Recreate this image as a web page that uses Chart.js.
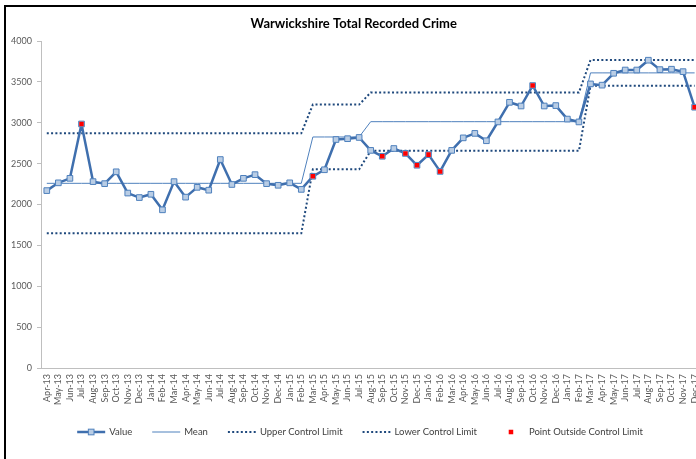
<!DOCTYPE html>
<html>
<head>
<meta charset="utf-8">
<title>Warwickshire Total Recorded Crime</title>
<script src="https://cdn.jsdelivr.net/npm/chart.js@4.4.0/dist/chart.umd.min.js"></script>
<style>
  html, body { margin: 0; padding: 0; background: #fff; overflow: hidden; }
  #wrap { position: absolute; left: 0; top: 0; width: 712px; height: 459px; }
  #frame { position: absolute; left: 4px; top: 5px; width: 900px; height: 900px; border: 2px solid #000; pointer-events: none; }
</style>
</head>
<body>
<div id="wrap"><canvas id="crimeChart" width="712" height="459"></canvas></div>
<div id="frame"></div>
<script>
const months = [
  'Apr-13', 'May-13', 'Jun-13', 'Jul-13', 'Aug-13', 'Sep-13', 'Oct-13', 'Nov-13', 'Dec-13',
  'Jan-14', 'Feb-14', 'Mar-14', 'Apr-14', 'May-14', 'Jun-14', 'Jul-14', 'Aug-14', 'Sep-14', 'Oct-14', 'Nov-14', 'Dec-14',
  'Jan-15', 'Feb-15', 'Mar-15', 'Apr-15', 'May-15', 'Jun-15', 'Jul-15', 'Aug-15', 'Sep-15', 'Oct-15', 'Nov-15', 'Dec-15',
  'Jan-16', 'Feb-16', 'Mar-16', 'Apr-16', 'May-16', 'Jun-16', 'Jul-16', 'Aug-16', 'Sep-16', 'Oct-16', 'Nov-16', 'Dec-16',
  'Jan-17', 'Feb-17', 'Mar-17', 'Apr-17', 'May-17', 'Jun-17', 'Jul-17', 'Aug-17', 'Sep-17', 'Oct-17', 'Nov-17', 'Dec-17'
];

const values = [
  2170, 2265, 2320, 2985, 2280, 2255, 2400, 2140, 2085,
  2125, 1935, 2280, 2090, 2210, 2175, 2550, 2245, 2320, 2365, 2255, 2235,
  2265, 2185, 2345, 2425, 2795, 2805, 2820, 2662, 2590, 2685, 2625, 2480,
  2610, 2405, 2662, 2815, 2870, 2780, 3010, 3250, 3205, 3455, 3205, 3210,
  3045, 3010, 3475, 3460, 3605, 3645, 3645, 3765, 3650, 3655, 3625, 3190
];

const mean = [
  2259, 2259, 2259, 2259, 2259, 2259, 2259, 2259, 2259,
  2259, 2259, 2259, 2259, 2259, 2259, 2259, 2259, 2259, 2259, 2259, 2259,
  2259, 2259, 2826, 2826, 2826, 2826, 2826, 3013, 3013, 3013, 3013, 3013,
  3013, 3013, 3013, 3013, 3013, 3013, 3013, 3013, 3013, 3013, 3013, 3013,
  3013, 3013, 3610, 3610, 3610, 3610, 3610, 3610, 3610, 3610, 3610, 3610
];

const upperLimit = [
  2871, 2871, 2871, 2871, 2871, 2871, 2871, 2871, 2871,
  2871, 2871, 2871, 2871, 2871, 2871, 2871, 2871, 2871, 2871, 2871, 2871,
  2871, 2871, 3222, 3222, 3222, 3222, 3222, 3370, 3370, 3370, 3370, 3370,
  3370, 3370, 3370, 3370, 3370, 3370, 3370, 3370, 3370, 3370, 3370, 3370,
  3370, 3370, 3767, 3767, 3767, 3767, 3767, 3767, 3767, 3767, 3767, 3767
];

const lowerLimit = [
  1647, 1647, 1647, 1647, 1647, 1647, 1647, 1647, 1647,
  1647, 1647, 1647, 1647, 1647, 1647, 1647, 1647, 1647, 1647, 1647, 1647,
  1647, 1647, 2430, 2430, 2430, 2430, 2430, 2656, 2656, 2656, 2656, 2656,
  2656, 2656, 2656, 2656, 2656, 2656, 2656, 2656, 2656, 2656, 2656, 2656,
  2656, 2656, 3452, 3452, 3452, 3452, 3452, 3452, 3452, 3452, 3452, 3452
];

const outside = [
  null, null, null, 2985, null, null, null, null, null,
  null, null, null, null, null, null, null, null, null, null, null, null,
  null, null, 2345, null, null, null, null, null, 2590, null, 2625, 2480,
  2610, 2405, null, null, null, null, null, null, null, 3455, null, null,
  null, null, null, null, null, null, null, null, null, null, null, 3190
];

const yTicks = { min: 0, max: 4000, step: 500 };

Chart.defaults.font.family = 'Lato';

// legend drawn by hand so the line samples look like the Excel ones
const spcLegend = {
  id: 'spcLegend',
  afterDraw(chart) {
    const ctx = chart.ctx;
    const sets = chart.data.datasets.slice().sort((a, b) => a.legendIndex - b.legendIndex);
    const y = chart.height - 27;
    const symW = 28, textGap = 4, itemGap = 20;
    ctx.save();
    ctx.font = '9.5px Lato';
    let total = 0;
    sets.forEach(ds => { total += symW + textGap + ctx.measureText(ds.label).width; });
    total += itemGap * (sets.length - 1);
    let x = 360 - total / 2;
    sets.forEach(ds => {
      if (ds.showLine !== false) {
        ctx.beginPath();
        ctx.setLineDash(ds.borderDash || []);
        ctx.lineWidth = ds.borderWidth;
        ctx.strokeStyle = ds.borderColor;
        ctx.moveTo(x, y);
        ctx.lineTo(x + symW, y);
        ctx.stroke();
        ctx.setLineDash([]);
      }
      if (ds.pointRadius > 0) {
        const s = ds.pointRadius * Math.SQRT2;
        ctx.fillStyle = ds.pointBackgroundColor;
        ctx.fillRect(x + symW / 2 - s / 2, y - s / 2, s, s);
        if (ds.pointBorderWidth) {
          ctx.lineWidth = ds.pointBorderWidth;
          ctx.strokeStyle = ds.pointBorderColor;
          ctx.strokeRect(x + symW / 2 - s / 2, y - s / 2, s, s);
        }
      }
      ctx.fillStyle = '#404040';
      ctx.textBaseline = 'middle';
      ctx.textAlign = 'left';
      ctx.fillText(ds.label, x + symW + textGap, y);
      x += symW + textGap + ctx.measureText(ds.label).width + itemGap;
    });
    ctx.restore();
  }
};

const ctx = document.getElementById('crimeChart').getContext('2d');
new Chart(ctx, {
  type: 'line',
  data: {
    labels: months,
    datasets: [
      {
        label: 'Value', legendIndex: 0, order: 1,
        data: values,
        borderColor: '#3f6fae', borderWidth: 2.5, borderJoinStyle: 'round',
        pointStyle: 'rect', pointRadius: 4,
        pointBackgroundColor: '#b9cde5', pointBorderColor: '#4f81bd', pointBorderWidth: 1
      },
      {
        label: 'Mean', legendIndex: 1, order: 2,
        data: mean,
        borderColor: '#4f81bd', borderWidth: 1, pointRadius: 0
      },
      {
        label: 'Upper Control Limit', legendIndex: 2, order: 3,
        data: upperLimit,
        borderColor: '#1f497d', borderWidth: 2, borderDash: [2, 2.3], pointRadius: 0
      },
      {
        label: 'Lower Control Limit', legendIndex: 3, order: 4,
        data: lowerLimit,
        borderColor: '#1f497d', borderWidth: 2, borderDash: [2, 2.3], pointRadius: 0
      },
      {
        label: 'Point Outside Control Limit', legendIndex: 4, order: 0,
        data: outside, showLine: false,
        pointStyle: 'rect', pointRadius: 3.2,
        pointBackgroundColor: '#ff0000', pointBorderColor: '#ff0000', pointBorderWidth: 0,
        borderColor: '#ff0000'
      }
    ]
  },
  options: {
    responsive: false,
    animation: false,
    events: [],
    layout: { padding: { left: 7, right: 11.6, top: 0, bottom: 0 } },
    plugins: {
      legend: { display: false },
      tooltip: { enabled: false },
      title: {
        display: true,
        text: 'Warwickshire Total Recorded Crime',
        color: '#000',
        font: { family: 'Lato', size: 13, weight: 'bold' },
        padding: { top: 16, bottom: 9.4 }
      }
    },
    scales: {
      x: {
        offset: true,
        ticks: { autoSkip: false, maxRotation: 90, minRotation: 90, color: '#595959', font: { size: 9 }, padding: 6 },
        grid: { display: false, drawTicks: false },
        border: { color: '#bfbfbf', width: 1 },
        afterFit(scale) { scale.height = 91; }
      },
      y: {
        min: yTicks.min,
        max: yTicks.max,
        ticks: {
          stepSize: yTicks.step, color: '#595959', font: { size: 9 }, padding: 5,
          callback: v => String(v)
        },
        grid: { drawOnChartArea: false, drawTicks: true, tickLength: 4, color: '#bfbfbf' },
        border: { color: '#bfbfbf', width: 1 },
        afterFit(scale) { scale.width = 34; }
      }
    }
  },
  plugins: [spcLegend]
});
</script>
</body>
</html>
